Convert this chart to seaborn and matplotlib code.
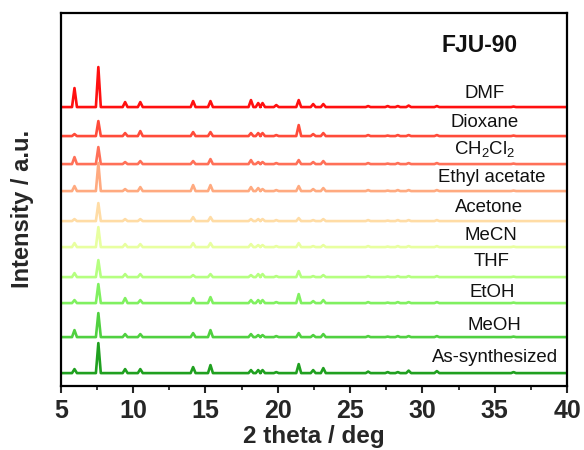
import numpy as np
import pandas as pd
import matplotlib
matplotlib.use("Agg")
import matplotlib.pyplot as plt
import seaborn as sns

# ---- data ----
samples = ["DMF", "Dioxane", "CH$_2$Cl$_2$", "Ethyl acetate", "Acetone",
           "MeCN", "THF", "EtOH", "MeOH", "As-synthesized"]
peak_pos = [5.95, 7.6, 9.45, 10.5, 14.15, 15.35, 18.15, 18.65, 18.95, 19.9,
            21.45, 22.45, 23.15, 26.25, 27.6, 28.3, 29.05, 31.0, 36.3]
heights = {
    "DMF":            [19, 40, 5, 5, 6, 6, 7, 4, 4, 2, 7, 3, 3, 1, 1, 1, 1.5, 1, 0.5],
    "Dioxane":        [2, 15, 3, 5, 4, 4, 3, 3, 3, 1, 11, 2, 3, 1, 0.5, 1, 1, 1, 0.5],
    "CH$_2$Cl$_2$":   [7, 17, 2, 3, 3, 5, 4, 2, 2, 1, 4, 2, 3, 1, 0.5, 1, 1, 1, 0.5],
    "Ethyl acetate":  [5, 28, 2, 4, 6, 6, 4, 3, 2, 1, 5, 2, 3, 1, 0.5, 1, 1, 1, 0.5],
    "Acetone":        [2, 18, 2, 2, 4, 4, 2, 2, 2, 1, 3, 1, 2, 1, 0.5, 1, 1, 1, 0.5],
    "MeCN":           [4, 20, 3, 3, 4, 4, 3, 2, 2, 1, 4, 1, 2, 1, 0.5, 1, 1, 1, 0.5],
    "THF":            [4, 17, 3, 3, 2, 3, 2, 3, 3, 1, 6, 1, 2, 1, 0.5, 1, 1, 1, 0.5],
    "EtOH":           [3, 19, 5, 3, 5, 6, 3, 3, 3, 1, 9, 2, 3, 1, 0.5, 1, 1, 1, 0.5],
    "MeOH":           [7, 24, 3, 3, 4, 7, 3, 2, 2, 1, 4, 2, 3, 1, 0.5, 1, 1, 1, 0.5],
    "As-synthesized": [4, 30, 4, 4, 6, 8, 3, 3, 3, 1, 9, 3, 5, 1.5, 1, 1, 2.5, 2, 1],
}
baselines = [279, 250, 222, 195, 165, 139, 109, 83, 49, 13]
label_y = [293, 264, 237, 209, 179, 151, 125, 94, 61, 29]
label_x = [34.3, 34.3, 34.3, 34.8, 34.6, 34.7, 34.8, 34.8, 35.0, 35.05]
colors = ["#FF1010", "#FF4B3A", "#FF7058", "#FFAA80", "#FFDCA5",
          "#E8FFA0", "#B5FF80", "#80F060", "#50D040", "#20A020"]
x_ticks = [5, 10, 15, 20, 25, 30, 35, 40]

sns.set_style("ticks")
plt.rcParams["font.family"] = ["Liberation Sans", "DejaVu Sans"]
plt.rcParams["mathtext.fontset"] = "custom"
plt.rcParams["mathtext.rm"] = "Liberation Sans"
plt.rcParams["mathtext.it"] = "Liberation Sans"

fig = plt.figure(figsize=(5.84, 4.5), dpi=100)
ax = fig.add_axes([0.104, 0.142, 0.867, 0.829])

hw = 0.17
for i, s in enumerate(samples):
    xs = [5.0]
    ys = [0.0]
    for p, h in zip(peak_pos, heights[s]):
        xs += [p - hw, p, p + hw]
        ys += [0.0, h, 0.0]
    xs.append(40.0)
    ys.append(0.0)
    df = pd.DataFrame({"x": xs, "y": np.array(ys) + baselines[i]})
    sns.lineplot(data=df, x="x", y="y", ax=ax, color=colors[i], lw=1.9,
                 sort=False, estimator=None)
    ax.text(label_x[i], label_y[i], s, ha="center", va="center", fontsize=13.4,
            color="#111111")

ax.text(33.98, 341, "FJU-90", ha="center", va="center", fontsize=16.5,
        fontweight="bold", color="#111111")

ax.set_xlim(5, 40)
ax.set_ylim(0, 373)
ax.set_xticks(x_ticks)
ax.set_xticks([7.5, 12.5, 17.5, 22.5, 27.5, 32.5, 37.5], minor=True)
ax.set_xticklabels([str(t) for t in x_ticks], fontsize=18, fontweight="bold")
ax.set_yticks([])
ax.tick_params(axis="x", which="major", direction="out", length=5, width=1.5, pad=4)
ax.tick_params(axis="x", which="minor", direction="out", length=3, width=1.3)
ax.set_xlabel("2 theta / deg", fontsize=17.5, fontweight="bold", labelpad=2)
ax.set_ylabel("Intensity / a.u.", fontsize=17, fontweight="bold")
ax.yaxis.set_label_coords(-0.052, 0.475)
for sp in ax.spines.values():
    sp.set_visible(True)
    sp.set_linewidth(1.6)
    sp.set_color("black")

fig.savefig("out.png", dpi=100)
